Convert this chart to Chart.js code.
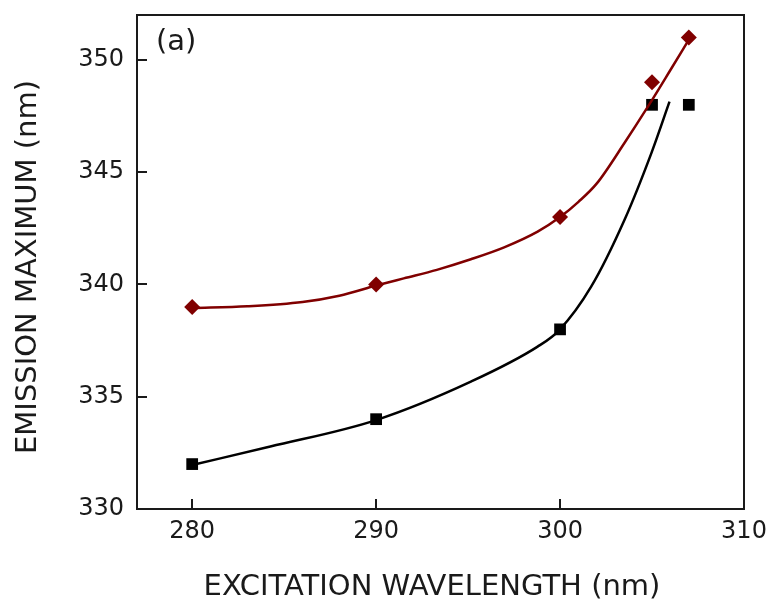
<!DOCTYPE html>
<html>
<head>
<meta charset="utf-8">
<script src="https://cdn.jsdelivr.net/npm/chart.js@4"></script>
<style>
  html, body { margin: 0; padding: 0; background: #fff; }
  #wrap { width: 766px; height: 604px; }
</style>
</head>
<body>
<div id="wrap"><canvas id="chart" width="766" height="604"></canvas></div>
<script>
// measured points
const excitation = [280, 290, 300, 305, 307];
const emissionA = [339, 340, 343, 349, 351];   // red diamonds
const emissionB = [332, 334, 338, 348, 348];   // black squares

// fitted curves
const fitAx = [280, 283, 286, 288, 290, 291.5, 293.3, 295.15, 296.96, 298.78, 300, 301, 302, 303.5, 304.8, 306, 307];
const fitAy = [338.95, 339.03, 339.22, 339.5, 339.95, 340.27, 340.65, 341.12, 341.65, 342.35, 343.0, 343.68, 344.5, 346.3, 347.95, 349.55, 350.9];
const fitBx = [280, 284.25, 290, 295.15, 298.78, 299.96, 301.69, 303.5, 304.96, 305.95];
const fitBy = [331.96, 332.78, 333.96, 335.67, 337.23, 337.97, 339.9, 342.87, 345.84, 348.14];

const xTicks = [280, 290, 300, 310];
const yTicks = [330, 335, 340, 345, 350];

const RED = '#800000';
const INK = '#1a1a1a';
const FONT = 'DejaVu Sans, Verdana, sans-serif';

const pts = (xs, ys) => xs.map((x, i) => ({ x, y: ys[i] }));

// frame, inward ticks, panel letter and axis titles
const framePlugin = {
  id: 'frame',
  afterDraw(chart) {
    const { ctx, chartArea: a, scales: { x, y } } = chart;
    ctx.save();
    ctx.strokeStyle = INK;
    ctx.lineWidth = 2;
    ctx.strokeRect(a.left, a.top, a.right - a.left, a.bottom - a.top);
    ctx.beginPath();
    xTicks.forEach(v => {
      const px = Math.round(x.getPixelForValue(v));
      if (px > a.left + 2 && px < a.right - 2) {
        ctx.moveTo(px, a.bottom);
        ctx.lineTo(px, a.bottom - 10);
      }
    });
    yTicks.forEach(v => {
      const py = Math.round(y.getPixelForValue(v));
      if (py > a.top + 2 && py < a.bottom - 2) {
        ctx.moveTo(a.left, py);
        ctx.lineTo(a.left + 10, py);
      }
    });
    ctx.stroke();

    ctx.fillStyle = INK;
    ctx.font = '29px ' + FONT;
    ctx.textBaseline = 'middle';
    ctx.textAlign = 'left';
    ctx.fillText('(a)', a.left + 19, 42);

    ctx.textAlign = 'center';
    ctx.fillText('EXCITATION WAVELENGTH (nm)', 432, 587);
    ctx.translate(28, 267);
    ctx.rotate(-Math.PI / 2);
    ctx.fillText('EMISSION MAXIMUM (nm)', 0, 0);
    ctx.restore();
  }
};

new Chart(document.getElementById('chart'), {
  type: 'scatter',
  data: {
    datasets: [
      {
        type: 'line',
        data: pts(fitAx, fitAy),
        borderColor: RED,
        borderWidth: 2.5,
        pointRadius: 0,
        cubicInterpolationMode: 'monotone',
        fill: false
      },
      {
        type: 'line',
        data: pts(fitBx, fitBy),
        borderColor: '#000',
        borderWidth: 2.5,
        pointRadius: 0,
        cubicInterpolationMode: 'monotone',
        fill: false
      },
      {
        data: pts(excitation, emissionA),
        pointStyle: 'rectRot',
        pointRadius: 8,
        backgroundColor: RED,
        borderColor: RED,
        borderWidth: 0
      },
      {
        data: pts(excitation, emissionB),
        pointStyle: 'rect',
        pointRadius: 8.3,
        backgroundColor: '#000',
        borderColor: '#000',
        borderWidth: 0
      }
    ]
  },
  options: {
    responsive: false,
    animation: false,
    layout: { padding: { top: 15, right: 22, left: 0, bottom: 0 } },
    plugins: { legend: { display: false }, tooltip: { enabled: false } },
    scales: {
      x: {
        type: 'linear',
        min: 277,
        max: 310,
        afterBuildTicks: s => { s.ticks = xTicks.map(v => ({ value: v })); },
        afterFit: s => { s.height = 95; s.paddingLeft = 0; s.paddingRight = 0; },
        grid: { display: false, drawTicks: false },
        border: { display: false },
        ticks: { color: INK, font: { family: FONT, size: 24 }, padding: 8, maxRotation: 0 }
      },
      y: {
        type: 'linear',
        min: 330,
        max: 352,
        afterBuildTicks: s => { s.ticks = yTicks.map(v => ({ value: v })); },
        afterFit: s => { s.width = 137; s.paddingTop = 0; s.paddingBottom = 0; },
        grid: { display: false, drawTicks: false },
        border: { display: false },
        ticks: { color: INK, font: { family: FONT, size: 24 }, padding: 13 }
      }
    }
  },
  plugins: [framePlugin]
});
</script>
</body>
</html>
